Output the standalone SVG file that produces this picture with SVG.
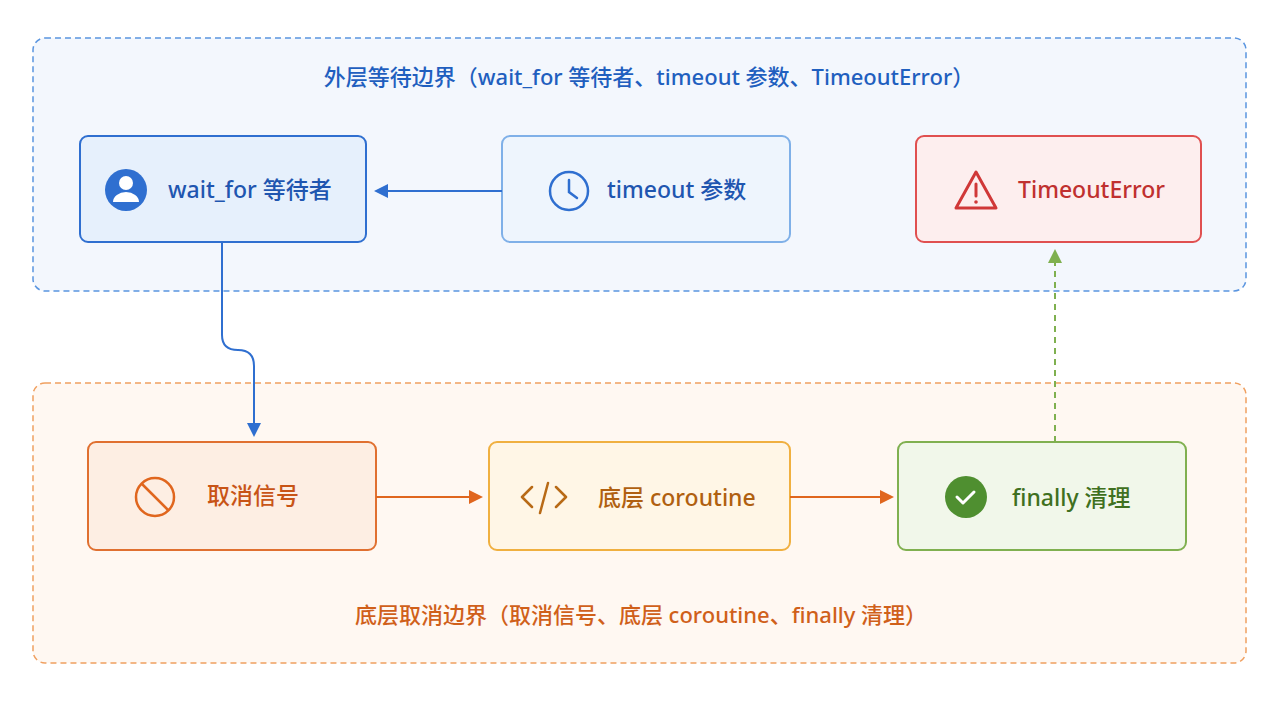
<svg xmlns="http://www.w3.org/2000/svg" width="1280" height="702" viewBox="0 0 1280 702">
<style>
text{font-family:"Noto Sans","Noto Sans CJK SC",sans-serif;font-weight:500;dominant-baseline:middle}
.t{font-size:23px}
.h{font-size:22px}
</style>
<defs>
<marker id="ao" markerWidth="14" markerHeight="14" refX="12" refY="7" orient="auto" markerUnits="userSpaceOnUse" viewBox="0 0 14 14"><path d="M0,0L14,7L0,14z" fill="#e0661e"/></marker>
<marker id="ag" markerWidth="14" markerHeight="14" refX="12" refY="7" orient="auto" markerUnits="userSpaceOnUse" viewBox="0 0 14 14"><path d="M0,0L14,7L0,14z" fill="#7fb04f"/></marker>
<marker id="ab2" markerWidth="14" markerHeight="14" refX="12" refY="7" orient="auto" markerUnits="userSpaceOnUse" viewBox="0 0 14 14"><path d="M0,0L14,7L0,14z" fill="#2f6fd0"/></marker>
</defs>
<rect width="1280" height="702" fill="#fff"/>
<g id="outer">
<rect x="33" y="38" width="1213" height="253" rx="12" fill="#f3f7fd" stroke="#5a95e0" stroke-width="1.5" stroke-dasharray="6 4"/>
<text x="649" y="79" class="h" text-anchor="middle" fill="#1f5fbf">外层等待边界（wait_for 等待者、timeout 参数、TimeoutError）</text>
</g>
<g id="inner">
<rect x="33" y="383" width="1213" height="280" rx="12" fill="#fff8f2" stroke="#f0a060" stroke-width="1.5" stroke-dasharray="6 4"/>
<text x="641" y="617" class="h" text-anchor="middle" fill="#d0601a">底层取消边界（取消信号、底层 coroutine、finally 清理）</text>
</g>
<g id="waitfor">
<rect x="80" y="136" width="286" height="106" rx="8" fill="#e6f0fc" stroke="#2f6fd0" stroke-width="2"/>
<circle cx="126" cy="190" r="21" fill="#2f6fd0"/>
<circle cx="126" cy="183" r="7" fill="#fff"/>
<path d="M113,202 a13,10 0 0 1 26,0 z" fill="#fff"/>
<text x="168" y="192" class="t" fill="#1f56b0">wait_for 等待者</text>
</g>
<g id="timeout">
<rect x="502" y="136" width="288" height="106" rx="8" fill="#eef5fd" stroke="#7fb0e8" stroke-width="2"/>
<circle cx="569" cy="191" r="19" fill="none" stroke="#2f6fd0" stroke-width="2.5"/>
<path d="M569,180v12l8,6" fill="none" stroke="#2f6fd0" stroke-width="2.5" stroke-linecap="round"/>
<text x="607" y="192" class="t" fill="#1f56b0">timeout 参数</text>
</g>
<g id="timeouterror">
<rect x="916" y="136" width="285" height="106" rx="8" fill="#fdeeee" stroke="#e05050" stroke-width="2"/>
<path d="M976,172L996,208H956Z" fill="none" stroke="#d03838" stroke-width="3" stroke-linejoin="round"/>
<path d="M976,184v12" stroke="#d03838" stroke-width="3" stroke-linecap="round"/>
<circle cx="976" cy="202" r="1.8" fill="#d03838"/>
<text x="1018" y="192" class="t" fill="#c0302f">TimeoutError</text>
</g>
<g id="cancel">
<rect x="88" y="442" width="288" height="108" rx="8" fill="#fdeee3" stroke="#e07030" stroke-width="2"/>
<circle cx="155" cy="497" r="19" fill="none" stroke="#e0661e" stroke-width="2.5"/>
<path d="M142,484L168,510" stroke="#e0661e" stroke-width="2.5"/>
<text x="207" y="498" class="t" fill="#c85416">取消信号</text>
</g>
<g id="coroutine">
<rect x="489" y="442" width="301" height="108" rx="8" fill="#fff6e6" stroke="#f0b040" stroke-width="2"/>
<path d="M532,487l-10,10l10,10M556,487l10,10l-10,10M548,483l-8,30" fill="none" stroke="#b86a16" stroke-width="2.5" stroke-linecap="round" stroke-linejoin="round"/>
<text x="598" y="500" class="t" fill="#b06010">底层 coroutine</text>
</g>
<g id="finally">
<rect x="898" y="442" width="288" height="108" rx="8" fill="#f1f7ea" stroke="#80b050" stroke-width="2"/>
<circle cx="966" cy="497" r="21" fill="#4f8f30"/>
<path d="M957,497l6,6l11,-11" fill="none" stroke="#fff" stroke-width="3" stroke-linecap="round" stroke-linejoin="round"/>
<text x="1012" y="500" class="t" fill="#3f7020">finally 清理</text>
</g>
<g id="connectors" fill="none">
<path d="M502,191H376" stroke="#2f6fd0" stroke-width="2" marker-end="url(#ab2)"/>
<path d="M222,242V335Q222,350 238,350Q254,350 254,366V435" stroke="#2f6fd0" stroke-width="2" marker-end="url(#ab2)"/>
<path d="M376,497H481" stroke="#e0661e" stroke-width="2" marker-end="url(#ao)"/>
<path d="M790,497H892" stroke="#e0661e" stroke-width="2" marker-end="url(#ao)"/>
<path d="M1055,442V251" stroke="#7fb04f" stroke-width="2" stroke-dasharray="6 5" marker-end="url(#ag)"/>
</g>
</svg>
